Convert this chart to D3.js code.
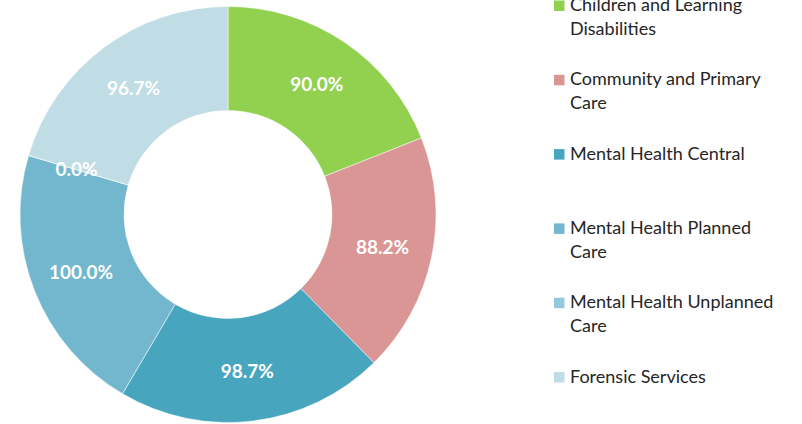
<!DOCTYPE html>
<html>
<head>
<meta charset="utf-8">
<script src="https://cdn.jsdelivr.net/npm/d3@7"></script>
<style>
  html, body { margin: 0; padding: 0; background: #ffffff; }
  svg { display: block; }
</style>
</head>
<body>
<svg id="chart" width="802" height="424"></svg>
<script>
const categories = [
  "Children and Learning Disabilities",
  "Community and Primary Care",
  "Mental Health Central",
  "Mental Health Planned Care",
  "Mental Health Unplanned Care",
  "Forensic Services"
];
const values = [90.0, 88.2, 98.7, 100.0, 0.0, 96.7];
const valueLabels = ["90.0%", "88.2%", "98.7%", "100.0%", "0.0%", "96.7%"];
const colors = ["#92D050", "#D99694", "#48A5BE", "#72B7CD", "#94C9DB", "#C0DCE5"];

const data = categories.map((c, i) => ({ name: c, value: values[i], label: valueLabels[i], color: colors[i] }));

const svg = d3.select("#chart");
const cx = 228, cy = 214.5;
const outerR = 208, innerR = 104, labelR = 158;

const pie = d3.pie().value(d => d.value).sort(null).startAngle(0).endAngle(2 * Math.PI);
const arc = d3.arc().innerRadius(innerR).outerRadius(outerR);
const labelArc = d3.arc().innerRadius(labelR).outerRadius(labelR);

const g = svg.append("g").attr("transform", `translate(${cx},${cy})`);
const arcs = pie(data);

g.selectAll("path.slice")
  .data(arcs)
  .enter().append("path")
  .attr("class", "slice")
  .attr("d", arc)
  .attr("fill", d => d.data.color)
  .attr("stroke", "#ffffff")
  .attr("stroke-width", 0.5);

g.selectAll("text.lbl")
  .data(arcs)
  .enter().append("text")
  .attr("class", "lbl")
  .attr("transform", d => `translate(${labelArc.centroid(d)})`)
  .attr("text-anchor", "middle")
  .attr("dy", "0.36em")
  .attr("fill", "#ffffff")
  .style("font-family", "Lato, 'Open Sans', sans-serif")
  .style("font-weight", "700")
  .style("font-size", "19px")
  .text(d => d.data.label);

// Legend
const legendX = 554, legendTop = 11, legendStep = 74.3, lineH = 23.7, maxW = 210;
const legend = svg.append("g");
data.forEach((d, i) => {
  const baseY = legendTop + i * legendStep;
  const item = legend.append("g");
  item.append("rect")
    .attr("x", legendX).attr("y", baseY - 10.5)
    .attr("width", 10.5).attr("height", 10.5)
    .attr("fill", d.color);
  const text = item.append("text")
    .attr("x", legendX + 16).attr("y", baseY)
    .attr("fill", "#262626")
    .style("font-family", "Lato, 'Open Sans', sans-serif")
    .style("font-size", "18px");
  const words = d.name.split(" ");
  let line = [], lineNo = 0;
  let tspan = text.append("tspan").attr("x", legendX + 16).attr("y", baseY);
  words.forEach(w => {
    line.push(w);
    tspan.text(line.join(" "));
    if (tspan.node().getComputedTextLength() > maxW && line.length > 1) {
      line.pop();
      tspan.text(line.join(" "));
      line = [w];
      lineNo++;
      tspan = text.append("tspan").attr("x", legendX + 16).attr("y", baseY + lineNo * lineH).text(w);
    }
  });
});
</script>
</body>
</html>
